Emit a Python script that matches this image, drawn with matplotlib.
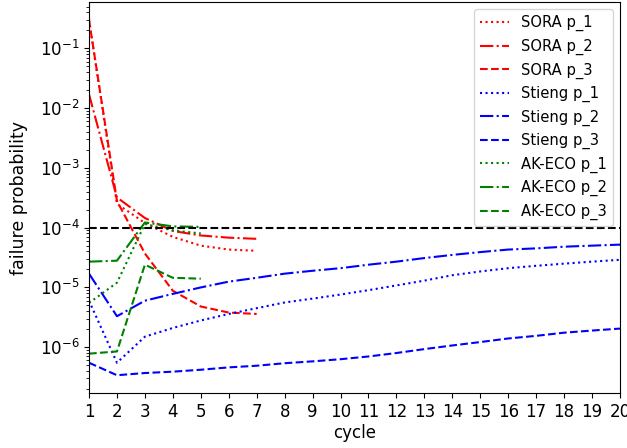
import matplotlib
matplotlib.use("Agg")
import matplotlib.pyplot as plt
import numpy as np

cycles_short = [1, 2, 3, 4, 5, 6, 7]
cycles_eco = [1, 2, 3, 4, 5]
cycles_long = list(range(1, 21))

sora_p1 = [0.3, 2.5e-4, 1.2e-4, 7.0e-5, 5.0e-5, 4.3e-5, 4.1e-5]
sora_p2 = [0.017, 3.2e-4, 1.45e-4, 8.8e-5, 7.4e-5, 6.8e-5, 6.5e-5]
sora_p3 = [0.3, 2.8e-4, 3.7e-5, 8.8e-6, 4.8e-6, 3.8e-6, 3.6e-6]

stieng_p1 = [6.0e-6, 5.5e-7, 1.5e-6, 2.1e-6, 2.8e-6, 3.6e-6, 4.5e-6, 5.6e-6, 6.5e-6, 7.6e-6,
             9.0e-6, 1.08e-5, 1.3e-5, 1.6e-5, 1.85e-5, 2.1e-5, 2.3e-5, 2.5e-5, 2.7e-5, 2.9e-5]
stieng_p2 = [1.7e-5, 3.3e-6, 6.0e-6, 7.8e-6, 1.0e-5, 1.25e-5, 1.45e-5, 1.7e-5, 1.9e-5, 2.1e-5,
             2.4e-5, 2.7e-5, 3.1e-5, 3.5e-5, 3.9e-5, 4.3e-5, 4.5e-5, 4.8e-5, 5.0e-5, 5.2e-5]
stieng_p3 = [5.5e-7, 3.4e-7, 3.7e-7, 3.9e-7, 4.2e-7, 4.6e-7, 4.9e-7, 5.4e-7, 5.8e-7, 6.3e-7,
             7.0e-7, 8.0e-7, 9.3e-7, 1.07e-6, 1.22e-6, 1.4e-6, 1.55e-6, 1.75e-6, 1.9e-6, 2.05e-6]

akeco_p1 = [5.5e-6, 1.2e-5, 1.15e-4, 9.0e-5, 8.0e-5]
akeco_p2 = [2.7e-5, 2.8e-5, 1.22e-4, 1.05e-4, 1.03e-4]
akeco_p3 = [7.8e-7, 8.5e-7, 2.4e-5, 1.45e-5, 1.4e-5]

threshold = 1e-4

fig = plt.figure(figsize=(6.27, 4.48), dpi=100)
ax = fig.add_axes([89/627, 1-393/448, (620-89)/627, (393-2)/448])

ax.plot(cycles_short, sora_p1, color='r', linestyle=':', label='SORA p_1')
ax.plot(cycles_short, sora_p2, color='r', linestyle='-.', label='SORA p_2')
ax.plot(cycles_short, sora_p3, color='r', linestyle='--', label='SORA p_3')
ax.plot(cycles_long, stieng_p1, color='b', linestyle=':', label='Stieng p_1')
ax.plot(cycles_long, stieng_p2, color='b', linestyle='-.', label='Stieng p_2')
ax.plot(cycles_long, stieng_p3, color='b', linestyle='--', label='Stieng p_3')
ax.plot(cycles_eco, akeco_p1, color='g', linestyle=':', label='AK-ECO p_1')
ax.plot(cycles_eco, akeco_p2, color='g', linestyle='-.', label='AK-ECO p_2')
ax.plot(cycles_eco, akeco_p3, color='g', linestyle='--', label='AK-ECO p_3')
ax.axhline(threshold, color='k', linestyle='--')

ax.set_yscale('log')
ax.set_xlim(1, 20)
ax.set_xticks(cycles_long)
ax.tick_params(axis='both', labelsize=12)
ax.set_xlabel('cycle', fontsize=12, labelpad=2)
ax.set_ylabel('failure probability', fontsize=12.5, labelpad=8)
ax.legend(loc='upper right', fontsize=10.6)

fig.savefig('out.png', dpi=100)
